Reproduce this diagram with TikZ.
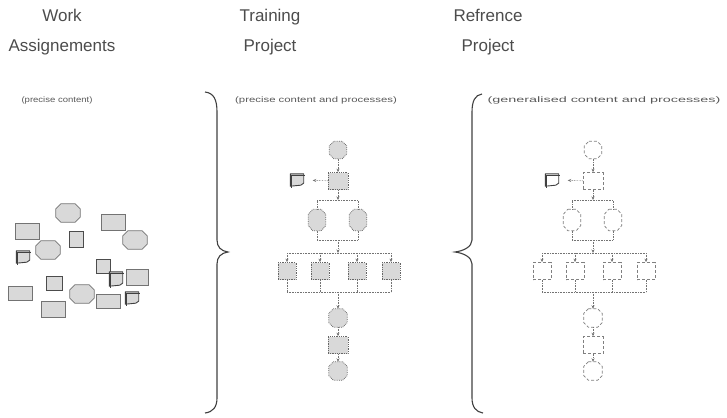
\documentclass[tikz,border=0pt]{standalone}
\usepackage{fontspec}
\setmainfont{Liberation Sans}
\usetikzlibrary{arrows.meta}

% outline of an octagon round a named node
\newcommand{\octo}[4][]{\draw[#1] ([xshift=#3]#2.north west) -- ([xshift=-#3]#2.north east)
    -- ([yshift=-#4]#2.north east) -- ([yshift=#4]#2.south east) -- ([xshift=-#3]#2.south east)
    -- ([xshift=#3]#2.south west) -- ([yshift=#4]#2.south west) -- ([yshift=-#4]#2.north west) -- cycle;}
% outline of a sheet with a curled corner
\newcommand{\sheet}[2][]{\draw[#1] (#2.north west) -- (#2.north east) -- ([yshift=3pt]#2.south east)
    -- ([xshift=-3pt,yshift=1pt]#2.south east) -- (#2.south west) -- cycle;
    \draw[black!75,line width=0.7pt] ([xshift=1.5pt,yshift=-1.5pt]#2.south west) -- ([xshift=1.5pt,yshift=-1.5pt]#2.north west)
    -- ([xshift=1.5pt,yshift=-1.5pt]#2.north east);}

\begin{document}
\begin{tikzpicture}[x=1pt,y=-1pt,>={Stealth[length=3.5pt,width=3pt]},
    title/.style={align=center,text=black!70,font=\fontsize{17}{30}\selectfont},
    subtitle/.style={text=black!65,font=\fontsize{8}{10}\selectfont},
    oct/.style={rectangle,inner sep=0pt,minimum width=17pt,minimum height=17pt},
    hexa/.style={rectangle,inner sep=0pt,minimum width=24pt,minimum height=18pt},
    box/.style={rectangle,inner sep=0pt,minimum width=20pt,minimum height=17pt},
    doc/.style={rectangle,inner sep=0pt,minimum width=13pt,minimum height=12pt},
    loose/.style={draw=black!55,fill=black!15,line width=0.8pt},
    trn/.style={draw=black!60,fill=black!15,densely dotted,line width=0.8pt},
    rfc/.style={draw=black!50,fill=white,densely dashed,line width=0.7pt},
    sheetline/.style={draw=black!75,line width=0.9pt,line join=round},
    link/.style={draw=black!55,densely dotted,line width=0.6pt}]
\useasboundingbox (0,0) rectangle (727,417);

% headings
\node[title] (work) at (62,32) {Work\\Assignements};
\node[title] (train) at (270,32) {Training\\Project};
\node[title] (refr) at (488,32) {Refrence\\Project};
\node[subtitle] (workc) at (57,100) {\scalebox{1.19}[1]{(precise content)}};
\node[subtitle] (trainc) at (316,100) {\scalebox{1.42}[1]{(precise content and processes)}};
\node[subtitle] (refrc) at (604,100) {\scalebox{1.8}[1]{(generalised content and processes)}};

% braces
\draw[black!75,line width=1.1pt] (205,92) .. controls (214,93) and (217,100) .. (217,112) -- (217,240)
    .. controls (217,247) and (221,251) .. (228,252) .. controls (221,253) and (217,257) .. (217,264)
    -- (217,398) .. controls (217,407) and (213,412) .. (205,413);
\draw[black!75,line width=1.1pt] (482,94) .. controls (475,95) and (472,101) .. (472,112) -- (472,240)
    .. controls (472,247) and (463,251) .. (455,252) .. controls (463,253) and (472,257) .. (472,264)
    -- (472,398) .. controls (472,407) and (476,412) .. (483,413);

% work assignements
\begin{scope}[every node/.style={loose}]
    \node[box,minimum width=24pt,minimum height=16pt] (w1) at (27,231) {};
    \node[box,minimum width=24pt,minimum height=16pt] (w2) at (113,222) {};
    \node[box,minimum width=22pt,minimum height=16pt] (w3) at (137,277) {};
    \node[box,minimum width=24pt,minimum height=14pt] (w4) at (20,293) {};
    \node[box,minimum width=24pt,minimum height=14pt] (w5) at (108,301) {};
    \node[box,minimum width=24pt,minimum height=16pt] (w6) at (53,309) {};
    \node[box,draw=black!70,minimum width=14pt,minimum height=16pt] (w11) at (76,239) {};
    \node[box,draw=black!70,minimum width=14pt,minimum height=14pt] (w12) at (103,266) {};
    \node[box,draw=black!70,minimum width=16pt,minimum height=14pt] (w13) at (54,283) {};
\end{scope}
\node[hexa] (w7) at (68,213) {};
\node[hexa] (w8) at (135,240) {};
\node[hexa] (w9) at (48,250) {};
\node[hexa] (w10) at (82,294) {};
\node[doc] (w14) at (23,257) {};
\node[doc,minimum height=14pt] (w15) at (116,279) {};
\node[doc] (w16) at (132,298) {};
\octo[loose]{w7}{5pt}{5pt}
\octo[loose]{w8}{5pt}{5pt}
\octo[loose]{w9}{5pt}{5pt}
\octo[loose]{w10}{5pt}{5pt}
\sheet[sheetline,fill=black!15]{w14}
\sheet[sheetline,fill=black!15]{w15}
\sheet[sheetline,fill=black!15]{w16}

% training project
\begin{scope}
    \node[oct] (t1) at (338,150) {};
    \node[box,trn] (t2) at (338,181) {};
    \node[doc] (td) at (297,180) {};
    \node[oct,minimum height=21pt] (t3) at (317,220) {};
    \node[oct,minimum height=21pt] (t4) at (358,220) {};
    \node[box,trn,minimum width=18pt] (t5) at (287,271) {};
    \node[box,trn,minimum width=18pt] (t6) at (320,271) {};
    \node[box,trn,minimum width=18pt] (t7) at (357,271) {};
    \node[box,trn,minimum width=18pt] (t8) at (391,271) {};
    \node[oct,minimum width=18pt,minimum height=18pt] (t9) at (338,318) {};
    \node[box,trn] (t10) at (338,345) {};
    \node[oct,minimum width=18pt,minimum height=18pt] (t11) at (338,371) {};
    \coordinate (ta) at (338,200);
    \coordinate (tb) at (338,240);
    \coordinate (tc) at (338,253);
    \coordinate (te) at (338,292);
\end{scope}
\octo[trn]{t1}{4.5pt}{4.5pt}
\octo[trn]{t3}{4.5pt}{5pt}
\octo[trn]{t4}{4.5pt}{5pt}
\octo[trn]{t9}{4.5pt}{4.5pt}
\octo[trn]{t11}{4.5pt}{4.5pt}
\sheet[sheetline,fill=black!15]{td}
\begin{scope}[every edge/.style={link}]
    \draw (t1) edge [->] (t2);
    \draw (t2) edge [->,shorten >=9pt] (td);
    \draw (t2) edge [->] (ta);
    \draw (t3) edge (t3 |- ta);
    \draw (t4) edge (t4 |- ta);
    \draw (t3 |- ta) edge (t4 |- ta);
    \draw (t3) edge (t3 |- tb);
    \draw (t4) edge (t4 |- tb);
    \draw (t3 |- tb) edge (t4 |- tb);
    \draw (tb) edge [->] (tc);
    \draw (t5 |- tc) edge (t8 |- tc);
    \draw (t5 |- tc) edge [->] (t5);
    \draw (t6 |- tc) edge [->] (t6);
    \draw (t7 |- tc) edge [->] (t7);
    \draw (t8 |- tc) edge [->] (t8);
    \draw (t5) edge (t5 |- te);
    \draw (t6) edge (t6 |- te);
    \draw (t7) edge (t7 |- te);
    \draw (t8) edge (t8 |- te);
    \draw (t5 |- te) edge (t8 |- te);
    \draw (te) edge [->] (t9);
    \draw (t9) edge [->] (t10);
    \draw (t10) edge [->] (t11);
\end{scope}

% reference project
\begin{scope}[xshift=255]
    \node[oct] (r1) at (338,150) {};
    \node[box,rfc] (r2) at (338,181) {};
    \node[doc] (rd) at (297,180) {};
    \node[oct,minimum height=21pt] (r3) at (317,220) {};
    \node[oct,minimum height=21pt] (r4) at (358,220) {};
    \node[box,rfc,minimum width=18pt] (r5) at (287,271) {};
    \node[box,rfc,minimum width=18pt] (r6) at (320,271) {};
    \node[box,rfc,minimum width=18pt] (r7) at (357,271) {};
    \node[box,rfc,minimum width=18pt] (r8) at (391,271) {};
    \node[oct,minimum width=18pt,minimum height=18pt] (r9) at (338,318) {};
    \node[box,rfc] (r10) at (338,345) {};
    \node[oct,minimum width=18pt,minimum height=18pt] (r11) at (338,371) {};
    \coordinate (ra) at (338,200);
    \coordinate (rb) at (338,240);
    \coordinate (rc) at (338,253);
    \coordinate (re) at (338,292);
\end{scope}
\octo[rfc]{r1}{4.5pt}{4.5pt}
\octo[rfc]{r3}{4.5pt}{5pt}
\octo[rfc]{r4}{4.5pt}{5pt}
\octo[rfc]{r9}{4.5pt}{4.5pt}
\octo[rfc]{r11}{4.5pt}{4.5pt}
\sheet[sheetline,fill=white]{rd}
\begin{scope}[every edge/.style={link}]
    \draw (r1) edge [->] (r2);
    \draw (r2) edge [->,shorten >=9pt] (rd);
    \draw (r2) edge [->] (ra);
    \draw (r3) edge (r3 |- ra);
    \draw (r4) edge (r4 |- ra);
    \draw (r3 |- ra) edge (r4 |- ra);
    \draw (r3) edge (r3 |- rb);
    \draw (r4) edge (r4 |- rb);
    \draw (r3 |- rb) edge (r4 |- rb);
    \draw (rb) edge [->] (rc);
    \draw (r5 |- rc) edge (r8 |- rc);
    \draw (r5 |- rc) edge [->] (r5);
    \draw (r6 |- rc) edge [->] (r6);
    \draw (r7 |- rc) edge [->] (r7);
    \draw (r8 |- rc) edge [->] (r8);
    \draw (r5) edge (r5 |- re);
    \draw (r6) edge (r6 |- re);
    \draw (r7) edge (r7 |- re);
    \draw (r8) edge (r8 |- re);
    \draw (r5 |- re) edge (r8 |- re);
    \draw (re) edge [->] (r9);
    \draw (r9) edge [->] (r10);
    \draw (r10) edge [->] (r11);
\end{scope}
\end{tikzpicture}
\end{document}
